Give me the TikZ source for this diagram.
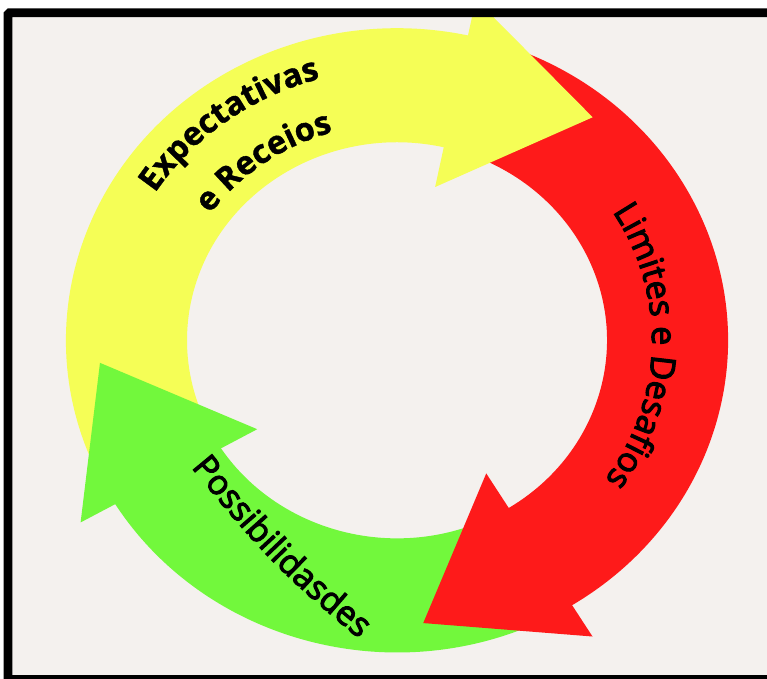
\documentclass[tikz,border=0pt]{standalone}
\usepackage{fontspec}
\setmainfont{Open Sans}
\newfontfamily\semibold[FakeBold=3.2]{Open Sans}
\newfontfamily\heavy[BoldFeatures={FakeBold=1.2}]{Open Sans}
\usetikzlibrary{decorations.text}
\definecolor{bgc}{HTML}{F4F1EE}
\definecolor{ylw}{HTML}{F5FE56}
\definecolor{rd}{HTML}{FE1A1A}
\definecolor{grn}{HTML}{72F83C}
\tikzset{
  ringlabel/.style={decorate, decoration={text along path, text align=center, text={#1}}},
  framebox/.style={draw=black, line width=8.6, rounded corners=1.5}
}
\begin{document}
\begin{tikzpicture}[x=1pt,y=1pt]
\useasboundingbox (0,0) rectangle (767,-678);
\fill[white] (0,0) rectangle (767,-678);
\fill[bgc] (8,-12.7) rectangle (790,-690);
\begin{scope}
\clip (12.3,-17) rectangle (790,-675);
\begin{scope}[shift={(397,-340.3)}, yscale=0.943]
  % bodies (ends tucked under the heads)
  \fill[ylw] (205:331) arc[start angle=205, end angle=75.5, radius=331] -- (75.5:210) arc[start angle=75.5, end angle=205, radius=210] -- cycle;
  \fill[rd] (72:331) arc[start angle=72, end angle=-60, radius=331] -- (-60:210) arc[start angle=-60, end angle=72, radius=210] -- cycle;
  \fill[grn] (-65:331) arc[start angle=-65, end angle=-150, radius=331] -- (-149.5:210) arc[start angle=-149.5, end angle=-65, radius=210] -- cycle;
  % heads
  \fill[ylw] (76.8:167) -- (77.7:370) -- (50.4:307) -- cycle;
  \fill[rd] (-57.7:167) -- (-58.1:370) -- (-85:301) -- cycle;
  \fill[grn] (-146:168.6) -- (-148.6:370.7) -- (-175.4:298) -- cycle;
\end{scope}
\end{scope}
% labels
\path[ringlabel={|\fontsize{32.5}{38}\selectfont\heavy\bfseries|Expectativas}] (397,-340.3) ++(175:288 and 271.6) arc[start angle=175, end angle=79, x radius=288, y radius=271.6];
\path[ringlabel={|\fontsize{32.5}{38}\selectfont\heavy\bfseries|e Receios}] (397,-340.3) ++(175:230 and 216.9) arc[start angle=175, end angle=77, x radius=230, y radius=216.9];
\path[ringlabel={|\fontsize{34}{40}\selectfont\semibold|Limites e Desafios}] (397,-340.3) ++(60:255 and 240.5) arc[start angle=60, end angle=-63, x radius=255, y radius=240.5];
\path[ringlabel={|\fontsize{34}{40}\selectfont\semibold|Possibilidasdes}] (168.9,-440.3) .. controls (272.6,-566.2) .. (386,-661.3);
% frame
\draw[framebox] (8,-12.7) rectangle (790,-679.3);
\end{tikzpicture}
\end{document}
